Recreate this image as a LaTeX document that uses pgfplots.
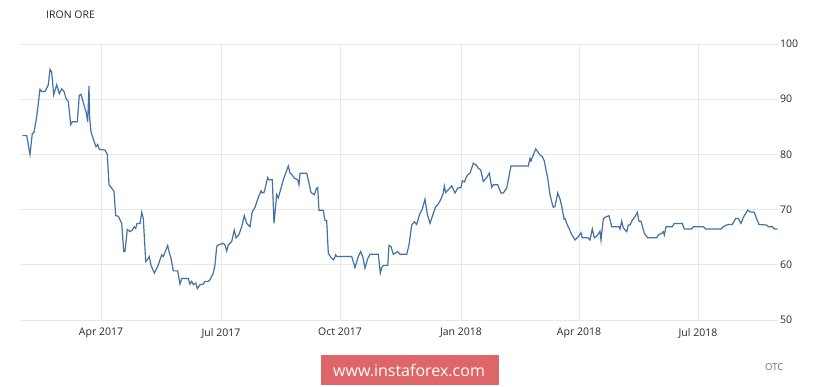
\documentclass[border=0pt]{standalone}
\usepackage{pgfplots}
\pgfplotsset{compat=1.18}
\usepackage{fontspec}
\setmainfont{Open Sans}
\definecolor{lineblue}{RGB}{68,114,163}
\definecolor{gridgray}{RGB}{232,232,232}
\definecolor{labelgray}{RGB}{40,40,40}
\definecolor{otcgray}{RGB}{110,110,110}
\definecolor{wmred}{RGB}{222,102,104}
\begin{document}
\begin{tikzpicture}[x=1pt,y=1pt]
\fill[white] (0,0) rectangle (820,386);
\path[use as bounding box] (0,0) rectangle (820,386);
\begin{axis}[
  at={(20pt,66pt)}, anchor=south west,
  scale only axis, width=758pt, height=276pt,
  xmin=20, xmax=778, ymin=50, ymax=100,
  xtick={101,221,340,461,579,698},
  xticklabels={Apr 2017,Jul 2017,Oct 2017,Jan 2018,Apr 2018,Jul 2018},
  ytick={50,60,70,80,90,100},
  yticklabel pos=right,
  /pgf/number format/assume math mode=true,
  xticklabel style={font=\fontsize{10.5}{12}\selectfont, text=labelgray, anchor=north, inner sep=0pt, yshift=-8pt},
  yticklabel style={font=\fontsize{10.5}{12}\selectfont, text=labelgray, anchor=west, inner sep=0pt, xshift=2pt},
  major tick length=0pt,
  axis line style={draw=none},
  xmajorgrids, ymajorgrids,
  major grid style={draw=gridgray, line width=0.8pt},
]
\addplot[lineblue, line width=1.2pt, mark=none] coordinates {
(22.3,83.4)(26.7,83.4)(30,80)(32.3,83.8)(34,84)(36.7,86.8)(40,91.8)(41.7,91.4)(45,91.4)(48.3,92.6)
(50,95.4)(51.7,94.9)(53.7,90.8)(56.7,92.6)(59.3,91)(61.7,91.9)(64.3,91.3)(66,90.1)(68.3,89.6)(70.7,85.4)
(72.3,85.9)(77.3,85.9)(79.3,90.7)(81,90.9)(85,88.3)(86,87.8)(87.7,85.9)(89,92.4)(89.7,86.5)(91,84.1)
(94.3,82.2)(96,81.4)(97.7,81.8)(99.3,80.9)(105,80.8)(107.3,80)(109,74.5)(111.7,73.9)(114,73.3)(115.7,68.9)
(118.3,68.8)(121.7,67.5)(123.7,62.4)(125,62.4)(127.3,66.4)(130,66)(132.3,66.3)(134.3,66.9)(135.7,66.6)(137,67.5)
(140,67.5)(141.7,69.5)(143.3,68.4)(145.7,60.6)(147.3,60.9)(149.3,61.5)(151,59.9)(154.3,58.5)(157.7,59.7)(161.7,61.8)
(163.3,61.5)(167.7,63.5)(169,62.4)(171,61.2)(173.3,58.9)(177.7,58.9)(180,56.5)(181.7,57.5)(188.3,57.5)(190,56.5)
(191.7,57)(193.3,56.4)(195.7,56.7)(197.3,55.7)(200,56.4)(203.3,56.5)(205,57)(208.3,57)(210,57.3)(213.3,58.5)
(215,60)(216.7,63.3)(218.3,63.6)(223.3,63.9)(225,63.6)(226.7,62.5)(228.3,63.6)(231.7,64.2)(234.3,66.3)(236,64.9)
(239,65.5)(241.7,66.9)(244.3,68.9)(246.7,67.5)(250,66.9)(252.3,69.6)(255,70.4)(258.3,72.2)(261,73.4)(262.3,73)
(264.3,73.2)(267.7,75.8)(269,75.4)(272.3,75.4)(274,67.5)(276.7,72.7)(278.3,72.1)(281,73.9)(283.3,75.4)(288.3,77.9)
(290,76.6)(291.7,76.4)(294.3,75.7)(297.7,75.4)(299,74.5)(300,76.6)(306.7,76.6)(308.3,75.4)(311,73.1)(314.3,72.7)
(316.7,73.9)(317.7,74)(319,69.9)(323.3,69.9)(325,68)(326.7,68)(328.3,62.1)(331,61.3)(333.3,60.9)(334.3,61.1)
(335.7,61.8)(337,61.5)(351.7,61.5)(355,59.5)(358.3,61.5)(360.7,62.4)(362.7,61.5)(365,59.4)(367.7,61.1)(370,61.9)
(378.3,61.9)(380.3,58.5)(381.7,59.5)(383.3,59.9)(387.7,59.9)(389,63.5)(391,63.3)(393.3,61.9)(397.7,62.4)(400,61.9)
(406.7,61.9)(409,63.6)(411.7,67.2)(414.3,67.8)(416.7,67.3)(419.3,69)(422.3,70.1)(425,71.9)(427.3,69.2)(430,67.5)
(433.3,69.3)(435.7,70.5)(438.3,71)(441,71.9)(443.3,73)(444.3,74.3)(445.7,73.1)(448.3,73.6)(451.7,74.3)(455,73)
(457.7,73.9)(461,74)(462.3,75.2)(464.3,75)(466.7,76)(468.3,76.4)(470,76.6)(473.3,78.4)(476,78.1)(478.3,77.5)
(480.7,77.2)(483.3,75.1)(486.7,75.8)(489.3,76.6)(491.7,74)(493.3,74.5)(497.7,74.5)(501,73)(503.3,73)(506.7,73.9)
(511,77.9)(528.3,77.9)(530,79.3)(531,78.8)(535.7,81)(537.7,80.5)(540,79.9)(542.3,79.6)(544.3,78.8)(546,77.2)
(547.7,75.7)(550,72.7)(551.7,71.4)(553.3,70.4)(555,70.6)(557.7,73)(560,71.9)(561.7,70.6)(564,68.3)(565,68.4)
(566.7,67.5)(569,66.6)(571.7,65.5)(575,64.5)(578.3,65.1)(581,65.8)(582.3,64.9)(587.7,64.9)(590,64.5)(592.3,66.5)
(594.3,64.9)(596,65.1)(597.7,65.4)(600,66.1)(601,64.5)(603.3,68.3)(605,68.6)(609,68.9)(611.7,66.9)(616.7,66.9)
(619,66.9)(620,66.5)(621.7,67.9)(623.3,66.7)(626.7,66)(628.3,67.2)(630,67.2)(632.3,68.1)(635,68.7)(637.3,69.5)
(639,67.9)(641,67.9)(644.3,65.7)(647.7,64.9)(656.7,64.9)(658.3,65.4)(661.7,65.7)(663.3,66)(664.3,65.4)(666,66.9)
(672.3,66.9)(674.3,67.5)(682.3,67.5)(684.3,66.5)(691.7,66.5)(693.3,66.9)(703.3,66.9)(705.7,66.5)(721,66.5)(723.3,66.9)
(727.7,67.3)(732.3,67.3)(735.7,68.4)(738.3,68.4)(741,67.5)(743.3,68.6)(747.7,69.9)(750,69.6)(754.3,69.5)(756.7,68.3)
(759,67.3)(766.7,67.2)(768.3,66.9)(772.3,66.9)(774.3,66.5)(777.7,66.5)
};
\end{axis}
\node[anchor=west, inner sep=0pt, font=\fontsize{10.5}{12}\selectfont, text=labelgray] at (46,371) {IRON ORE};
\node[anchor=west, inner sep=0pt, font=\fontsize{9.5}{11}\selectfont, text=otcgray] at (765,19) {OTC};
\fill[wmred] (321,1) rectangle (499,31);
\node[inner sep=0pt, font=\fontsize{16}{18}\selectfont, text=white] at (409,15.5) {www.instaforex.com};
\end{tikzpicture}
\end{document}
